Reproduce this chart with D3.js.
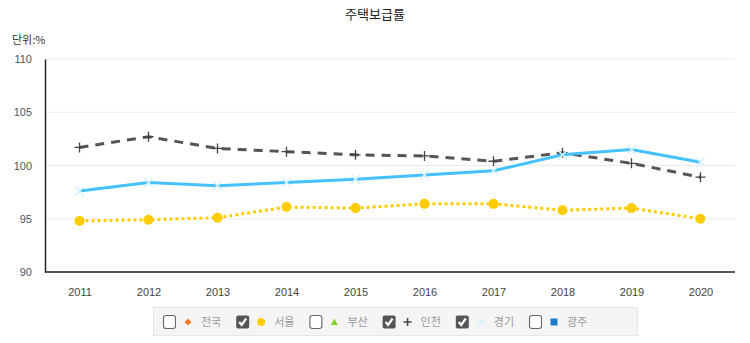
<!DOCTYPE html>
<html><head><meta charset="utf-8">
<script src="https://cdn.jsdelivr.net/npm/d3@7"></script>
<style>body{margin:0;background:#fff;font-family:"Noto Sans CJK KR","Liberation Sans",Arial,sans-serif;}</style>
</head><body>
<svg id="c" width="750" height="343"></svg>
<script>
const years = ["2011","2012","2013","2014","2015","2016","2017","2018","2019","2020"];
const yTicks = [90,95,100,105,110];
const seoul = [94.8,94.9,95.1,96.1,96.0,96.4,96.4,95.8,96.0,95.0];
const incheon = [101.7,102.7,101.6,101.3,101.0,100.9,100.4,101.2,100.2,98.9];
const gyeonggi = [97.6,98.4,98.1,98.4,98.7,99.1,99.5,101.0,101.5,100.3];
const legendNames = ["전국","서울","부산","인천","경기","광주"];
const legendChecked = [false,true,false,true,true,false];

const svg = d3.select("#c");
const L=45,R=735,T=59,B=272;
const x = d3.scalePoint().domain(years).range([L,R]).padding(0.5);
const y = d3.scaleLinear().domain([90,110]).range([B,T]);

svg.append("text").attr("x",375).attr("y",19).attr("text-anchor","middle")
  .attr("font-size",13).attr("fill","#222").text("주택보급률");
svg.append("text").attr("x",12).attr("y",44).attr("font-size",11).attr("fill","#333").text("단위:%");

// grid
svg.append("g").selectAll("line").data(yTicks.filter(d=>d>90)).join("line")
  .attr("x1",L).attr("x2",R).attr("y1",d=>y(d)).attr("y2",d=>y(d))
  .attr("stroke","#ebebeb").attr("stroke-width",1);

// y axis
const ya = svg.append("g").attr("transform",`translate(${L},0)`)
  .call(d3.axisLeft(y).tickValues(yTicks).tickSize(0).tickPadding(13));
ya.select(".domain").attr("stroke","#222").attr("stroke-width",1.5);
ya.selectAll("text").attr("font-size",11).attr("fill","#555").attr("font-family","Liberation Sans,Arial,sans-serif");

// x axis
const xa = svg.append("g").attr("transform",`translate(0,${B})`)
  .call(d3.axisBottom(x).tickSize(0).tickPadding(16));
xa.select(".domain").attr("stroke","#222").attr("stroke-width",1.5).attr("d",`M${L},0H${R}`);
xa.selectAll("text").attr("font-size",11).attr("fill","#444").attr("font-family","Liberation Sans,Arial,sans-serif");

const line = d3.line().x((d,i)=>x(years[i])).y(d=>y(d));

// Incheon
svg.append("path").datum(incheon).attr("d",line).attr("fill","none")
  .attr("stroke","#555").attr("stroke-width",3).attr("stroke-dasharray","9,7");
svg.append("g").selectAll("path").data(incheon).join("path")
  .attr("d",(d,i)=>{const cx=x(years[i]),cy=y(d);return `M${cx-5},${cy}H${cx+5}M${cx},${cy-5}V${cy+5}`;})
  .attr("stroke","#444").attr("stroke-width",1.3);

// Gyeonggi
svg.append("path").datum(gyeonggi).attr("d",line).attr("fill","none")
  .attr("stroke","#45c1ff").attr("stroke-width",3);
svg.append("g").selectAll("path").data(gyeonggi).join("path")
  .attr("d",(d,i)=>{const cx=x(years[i]),cy=y(d);return `M${cx-4.5},${cy-4.5}L${cx+4.5},${cy+4.5}M${cx+4.5},${cy-4.5}L${cx-4.5},${cy+4.5}`;})
  .attr("stroke","#d6f1ff").attr("stroke-width",1.5);

// Seoul
svg.append("path").datum(seoul).attr("d",line).attr("fill","none")
  .attr("stroke","#ffcc00").attr("stroke-width",3).attr("stroke-dasharray","3,3");
svg.append("g").selectAll("circle").data(seoul).join("circle")
  .attr("cx",(d,i)=>x(years[i])).attr("cy",d=>y(d)).attr("r",5).attr("fill","#ffcc00");

// legend
const lg = svg.append("g");
lg.append("rect").attr("x",153.5).attr("y",307.5).attr("width",484).attr("height",28)
  .attr("fill","#f5f5f5").attr("stroke","#e6e6e6");
const step=73.2, x0=163;
legendNames.forEach((n,i)=>{
  const gx = x0+i*step, cy=322;
  const g = lg.append("g");
  if(legendChecked[i]){
    g.append("rect").attr("x",gx).attr("y",cy-6.5).attr("width",13).attr("height",13).attr("rx",2).attr("fill","#555");
    g.append("path").attr("d",`M${gx+3},${cy}L${gx+5.5},${cy+3}L${gx+10},${cy-3.5}`).attr("fill","none").attr("stroke","#fff").attr("stroke-width",2.2);
  } else {
    g.append("rect").attr("x",gx+0.5).attr("y",cy-6.5).attr("width",12).attr("height",13).attr("rx",2.5).attr("fill","#fff").attr("stroke","#666").attr("stroke-width",1.1);
  }
  const mx = gx+25;
  if(i===0) g.append("path").attr("d",`M${mx},${cy-3.5}L${mx+3.5},${cy}L${mx},${cy+3.5}L${mx-3.5},${cy}Z`).attr("fill","#f47c2c");
  if(i===1) g.append("circle").attr("cx",mx).attr("cy",cy).attr("r",4).attr("fill","#ffcc00");
  if(i===2) g.append("path").attr("d",`M${mx},${cy-3.5}L${mx+3.5},${cy+3}L${mx-3.5},${cy+3}Z`).attr("fill","#7ed321");
  if(i===3) g.append("path").attr("d",`M${mx-4},${cy}H${mx+4}M${mx},${cy-4}V${cy+4}`).attr("stroke","#444").attr("stroke-width",1.5);
  if(i===4) g.append("path").attr("d",`M${mx-3.5},${cy-3.5}L${mx+3.5},${cy+3.5}M${mx+3.5},${cy-3.5}L${mx-3.5},${cy+3.5}`).attr("stroke","#d6f1ff").attr("stroke-width",1.5);
  if(i===5) g.append("rect").attr("x",mx-3.5).attr("y",cy-3.5).attr("width",7).attr("height",7).attr("fill","#1f7ac8");
  g.append("text").attr("x",gx+38).attr("y",cy+4).attr("font-size",11).attr("fill","#999").text(n);
});
</script>
</body></html>
